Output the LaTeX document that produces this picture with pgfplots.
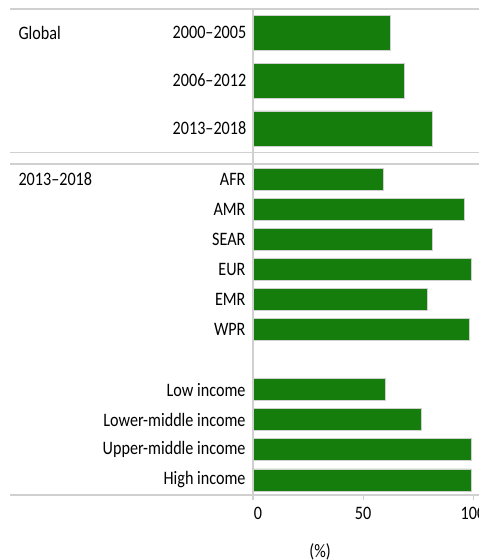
\documentclass[border=0pt]{standalone}
\usepackage{fontspec}
\setmainfont{Carlito}[FakeStretch=0.85]
\usepackage{pgfplots}
\pgfplotsset{compat=1.18}
\definecolor{barg}{RGB}{21,125,12}
\definecolor{rule}{RGB}{208,208,208}
\pgfplotsset{
  panel/.style={
    scale only axis, width=220bp,
    xmin=0, xmax=100, ymin=-0.5,
    y dir=reverse,
    axis line style={draw=none},
    xbar, bar shift=0pt,
    ytick style={draw=none},
    yticklabel style={anchor=east, xshift=1bp},
    /pgf/number format/assume math mode=true,
    clip=false,
  },
}
\begin{document}
\begin{tikzpicture}[x=1bp, y=1bp, font=\fontsize{19bp}{22bp}\selectfont]
% frame rules
\draw[rule, line width=1.3bp] (10,551) -- (500,551);
\draw[rule, line width=1.3bp] (10,407.7) -- (500,407.7);
\draw[rule, line width=1.3bp] (10,396) -- (500,396);
\draw[rule, line width=1.3bp] (10,65) -- (500,65);
\draw[rule, line width=1.1bp] (253,551) -- (253,60);

\begin{axis}[panel, at={(253bp,407.7bp)}, anchor=south west,
  height=143.3bp, ymax=2.5, bar width=35bp,
  xtick=\empty,
  ytick={0,1,2},
  yticklabels={2000–2005, 2006–2012, 2013–2018}]
\addplot[fill=barg, draw=rule, line width=0.8bp] coordinates {
  (62.6,0) (68.8,1) (81.5,2)};
\end{axis}

\begin{axis}[panel, at={(253bp,65bp)}, anchor=south west,
  height=331bp, ymax=10.5, bar width=22bp,
  xtick={0,50,100}, xticklabels={\hspace{10bp}0,50,100},
  xtick pos=lower, tick align=outside, major tick length=5bp,
  xtick style={rule, line width=1bp},
  xticklabel style={yshift=-4bp},
  ytick={0,1,2,3,4,5,7,8,9,10},
  yticklabels={AFR, AMR, SEAR, EUR, EMR, WPR,
    Low income, Lower-middle income, Upper-middle income, High income},
  xlabel={(\%)},
  xlabel style={at={(axis cs:30.5,10.5)}, anchor=center, yshift=-57bp}]
\addplot[fill=barg, draw=rule, line width=0.8bp] coordinates {
  (59.2,0) (95.9,1) (81.5,2) (99.2,3) (79.2,4) (98.2,5)
  (60.3,7) (76.4,8) (99.2,9) (99.2,10)};
\end{axis}

\node[anchor=west] at (15,527) {Global};
\node[anchor=west] at (15,381) {2013–2018};

\pgfresetboundingbox
\useasboundingbox (0,0) rectangle (479,560);
\end{tikzpicture}
\end{document}
